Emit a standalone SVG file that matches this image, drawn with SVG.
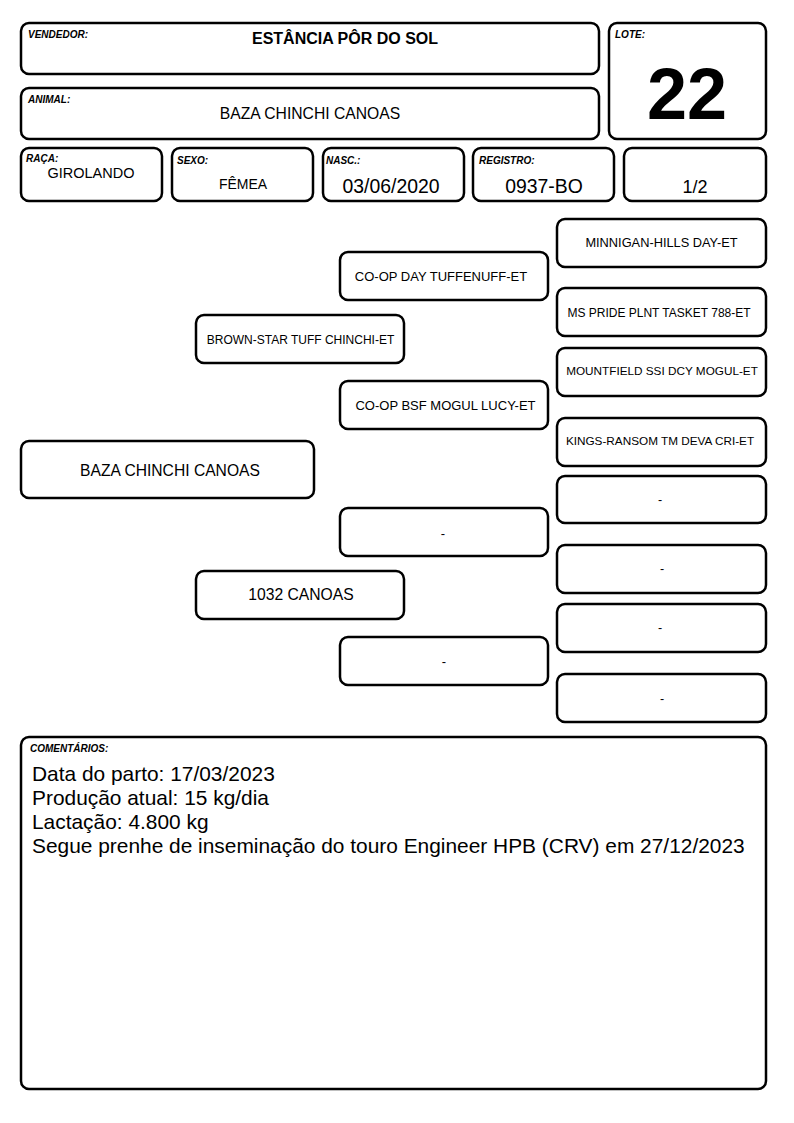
<svg xmlns="http://www.w3.org/2000/svg" width="794" height="1123" viewBox="0 0 794 1123">
<style>
.b{fill:#fff;stroke:#000;stroke-width:2.5}
text{font-family:"Liberation Sans",Arial,sans-serif;fill:#000}
.lb{font-size:10px;font-weight:bold;font-style:italic}
.c{text-anchor:middle}
.p{font-size:13px}
.p3{font-size:12.5px}
.cm{font-size:20.9px}
</style>
<rect width="794" height="1123" fill="#fff"/>
<g id="vendedor"><rect class="b" x="21" y="23" width="578" height="51" rx="8"/><text class="lb" x="28" y="38">VENDEDOR:</text><text class="c" x="345" y="44" font-size="16" font-weight="bold">ESTÂNCIA PÔR DO SOL</text></g>
<g id="animal"><rect class="b" x="21" y="88" width="578" height="51" rx="8"/><text class="lb" x="28" y="103">ANIMAL:</text><text class="c" x="310" y="119" font-size="15.7">BAZA CHINCHI CANOAS</text></g>
<g id="lote"><rect class="b" x="609" y="23" width="157" height="116" rx="8"/><text class="lb" x="615" y="38">LOTE:</text><text class="c" x="687" y="119" font-size="72" font-weight="bold">22</text></g>
<g id="raca"><rect class="b" x="21" y="148" width="141" height="53" rx="8"/><text class="lb" x="26" y="162">RAÇA:</text><text class="c" x="91" y="178" font-size="14.5">GIROLANDO</text></g>
<g id="sexo"><rect class="b" x="172" y="148" width="141" height="53" rx="8"/><text class="lb" x="177" y="164">SEXO:</text><text class="c" x="243" y="189" font-size="14">FÊMEA</text></g>
<g id="nasc"><rect class="b" x="323" y="148" width="141" height="53" rx="8"/><text class="lb" x="326" y="164">NASC.:</text><text class="c" x="391" y="193" font-size="19.4">03/06/2020</text></g>
<g id="registro"><rect class="b" x="473" y="148" width="141" height="53" rx="8"/><text class="lb" x="479" y="164">REGISTRO:</text><text class="c" x="544" y="193" font-size="19.4">0937-BO</text></g>
<g id="pagina"><rect class="b" x="624" y="148" width="142" height="53" rx="8"/><text class="c" x="695" y="193" font-size="18">1/2</text></g>
<g id="connectors"></g>
<g id="subject"><rect class="b" x="21" y="441" width="293" height="57" rx="8"/><text class="c" x="170" y="476" font-size="15.65">BAZA CHINCHI CANOAS</text></g>
<g id="sire"><rect class="b" x="196" y="315" width="208" height="48" rx="8"/><text class="c" x="300.5" y="344" font-size="12">BROWN-STAR TUFF CHINCHI-ET</text></g>
<g id="dam"><rect class="b" x="196" y="571" width="208" height="48" rx="8"/><text class="c" x="301" y="600" font-size="15.7">1032 CANOAS</text></g>
<g id="ss"><rect class="b" x="340" y="252" width="208" height="48" rx="8"/><text class="c p" x="441" y="281">CO-OP DAY TUFFENUFF-ET</text></g>
<g id="sd"><rect class="b" x="340" y="381" width="208" height="48" rx="8"/><text class="c p" x="445.5" y="410">CO-OP BSF MOGUL LUCY-ET</text></g>
<g id="ds"><rect class="b" x="340" y="508" width="208" height="48" rx="8"/><text class="c p" x="443" y="538">-</text></g>
<g id="dd"><rect class="b" x="340" y="637" width="208" height="48" rx="8"/><text class="c p" x="444" y="666">-</text></g>
<g id="sss"><rect class="b" x="557" y="219" width="209" height="48" rx="8"/><text class="c" x="661.5" y="247" font-size="12.8">MINNIGAN-HILLS DAY-ET</text></g>
<g id="ssd"><rect class="b" x="557" y="288" width="209" height="48" rx="8"/><text class="c" x="659" y="317" font-size="12">MS PRIDE PLNT TASKET 788-ET</text></g>
<g id="sds"><rect class="b" x="557" y="348" width="209" height="48" rx="8"/><text class="c" x="662" y="375" font-size="11.75">MOUNTFIELD SSI DCY MOGUL-ET</text></g>
<g id="sdd"><rect class="b" x="557" y="418" width="209" height="48" rx="8"/><text class="c" x="660" y="445" font-size="11.75">KINGS-RANSOM TM DEVA CRI-ET</text></g>
<g id="dss"><rect class="b" x="557" y="476" width="209" height="47" rx="8"/><text class="c p3" x="660" y="504">-</text></g>
<g id="dsd"><rect class="b" x="557" y="545" width="209" height="48" rx="8"/><text class="c p3" x="662" y="573">-</text></g>
<g id="dds"><rect class="b" x="557" y="604" width="209" height="48" rx="8"/><text class="c p3" x="660" y="632">-</text></g>
<g id="ddd"><rect class="b" x="557" y="674" width="209" height="48" rx="8"/><text class="c p3" x="662" y="703">-</text></g>
<g id="comentarios"><rect class="b" x="21" y="737" width="745" height="352" rx="8"/><text class="lb" x="30" y="752">COMENTÁRIOS:</text>
<text class="cm" x="32" y="781">Data do parto: 17/03/2023</text>
<text class="cm" x="32" y="805">Produção atual: 15 kg/dia</text>
<text class="cm" x="32" y="829">Lactação: 4.800 kg</text>
<text class="cm" x="32" y="853">Segue prenhe de inseminação do touro Engineer HPB (CRV) em 27/12/2023</text></g>
</svg>
